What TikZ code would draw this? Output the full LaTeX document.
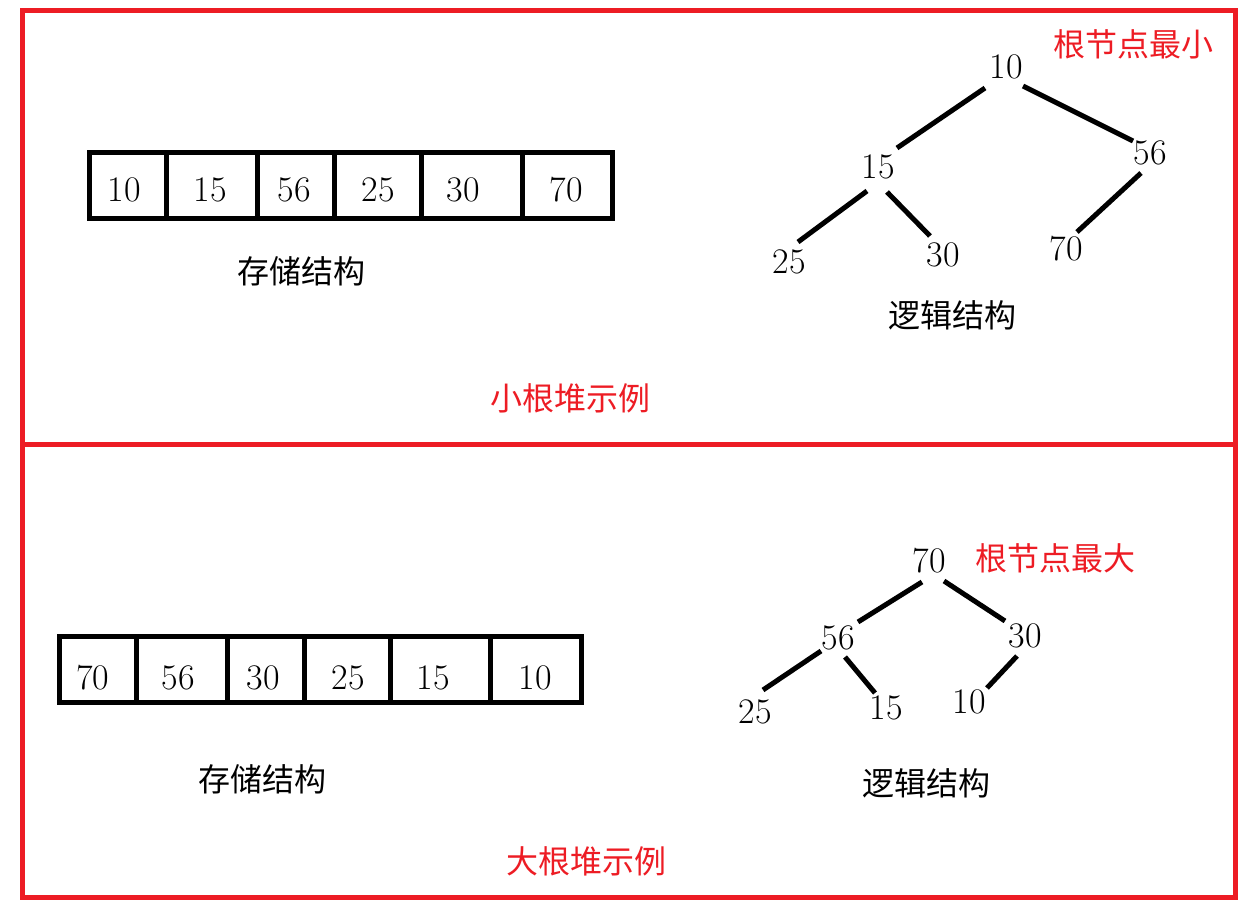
\documentclass[tikz,border=0pt]{standalone}
\usepackage{fontspec}
\newfontfamily\cjk{Noto Sans CJK SC}
\definecolor{hred}{RGB}{237,28,36}
\begin{document}
\begin{tikzpicture}[x=0.75pt,y=-0.75pt,
 num/.style={font=\fontsize{27}{30}\selectfont, inner sep=0pt},
 tnum/.style={font=\fontsize{27}{30}\selectfont, inner sep=0pt},
 cjklab/.style={font=\cjk\fontsize{24}{28}\selectfont, inner sep=0pt},
 redlab/.style={cjklab,text=hred},
 cell/.style={draw, line width=3.75pt, minimum height=49.5pt, inner sep=0pt},
 edge/.style={line width=3.75pt},
 frame/.style={draw=hred, line width=3.75pt}]
\useasboundingbox (0,0) rectangle (1258,919);
% frames
\draw[frame] (22.5,10.5) rectangle (1235.5,445);
\draw[frame] (22.5,445) rectangle (1235.5,897.5);

% ---------- top: min heap ----------
\node[cell, minimum width={77*0.75pt}]  (ta) at (127.5,186) {};
\node[cell, minimum width={91*0.75pt}]  (tb) at (211.5,186) {};
\node[cell, minimum width={77*0.75pt}]  (tc) at (295.5,186) {};
\node[cell, minimum width={87*0.75pt}]  (td) at (377.5,186) {};
\node[cell, minimum width={101*0.75pt}] (te) at (471.5,186) {};
\node[cell, minimum width={90*0.75pt}]  (tf) at (567,186) {};
\node[num] (tav) at (124,190) {10};
\node[num] (tbv) at (210,190) {15};
\node[num] (tcv) at (294,190) {56};
\node[num] (tdv) at (378,190) {25};
\node[num] (tev) at (463,190) {30};
\node[num] (tfv) at (566,190) {70};
\node[cjklab] (tstore) at (301,271) {存储结构};

\node[tnum] (t10) at (1006,67) {10};
\node[tnum] (t15) at (878,167) {15};
\node[tnum] (t56) at (1150,153) {56};
\node[tnum] (t25) at (789,262) {25};
\node[tnum] (t30) at (943,255) {30};
\node[tnum] (t70) at (1066,249) {70};
\draw[edge] ([shift={(-21,21)}]t10.center) -- ([shift={(19,-19)}]t15.center);
\draw[edge] ([shift={(17,19)}]t10.center) -- ([shift={(-17,-12)}]t56.center);
\draw[edge] ([shift={(-11,24)}]t15.center) -- ([shift={(9,-20)}]t25.center);
\draw[edge] ([shift={(9,25)}]t15.center) -- ([shift={(-13,-19)}]t30.center);
\draw[edge] ([shift={(-9,20)}]t56.center) -- ([shift={(11,-17)}]t70.center);
\node[cjklab] (tlogic) at (952,315) {逻辑结构};
\node[redlab] (ttitle) at (570,398) {小根堆示例};
\node[redlab] (tnote) at (1133,44) {根节点最小};

% ---------- bottom: max heap ----------
\node[cell, minimum width={77*0.75pt}]  (ba) at (97.5,669.5) {};
\node[cell, minimum width={91*0.75pt}]  (bb) at (181.5,669.5) {};
\node[cell, minimum width={77*0.75pt}]  (bc) at (265.5,669.5) {};
\node[cell, minimum width={86*0.75pt}]  (bd) at (347,669.5) {};
\node[cell, minimum width={100*0.75pt}] (be) at (440,669.5) {};
\node[cell, minimum width={91*0.75pt}]  (bf) at (535.5,669.5) {};
\node[num] (bav) at (93,678) {70};
\node[num] (bbv) at (178,678) {56};
\node[num] (bcv) at (263,678) {30};
\node[num] (bdv) at (348,678) {25};
\node[num] (bev) at (433,678) {15};
\node[num] (bfv) at (535,678) {10};
\node[cjklab] (bstore) at (262,779) {存储结构};

\node[tnum] (b70) at (929,561) {70};
\node[tnum] (b56) at (838,638) {56};
\node[tnum] (b30) at (1025,636) {30};
\node[tnum] (b25) at (755,712) {25};
\node[tnum] (b15) at (886,708) {15};
\node[tnum] (b10) at (969,702) {10};
\draw[edge] ([shift={(-7,21)}]b70.center) -- ([shift={(20,-16)}]b56.center);
\draw[edge] ([shift={(15,20)}]b70.center) -- ([shift={(-20,-15)}]b30.center);
\draw[edge] ([shift={(-17,13)}]b56.center) -- ([shift={(8,-22)}]b25.center);
\draw[edge] ([shift={(7,19)}]b56.center) -- ([shift={(-11,-15)}]b15.center);
\draw[edge] ([shift={(-8,20)}]b30.center) -- ([shift={(18,-14)}]b10.center);
\node[cjklab] (blogic) at (926,783) {逻辑结构};
\node[redlab] (btitle) at (586,861) {大根堆示例};
\node[redlab] (bnote) at (1055,558) {根节点最大};
\end{tikzpicture}
\end{document}
